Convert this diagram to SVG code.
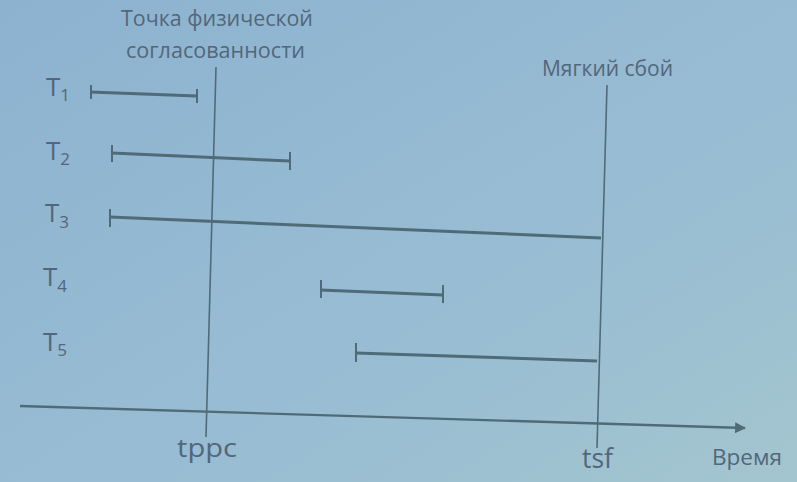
<svg xmlns="http://www.w3.org/2000/svg" width="797" height="482" viewBox="0 0 797 482">
<defs>
<linearGradient id="bg" x1="0" y1="0" x2="1" y2="1">
<stop offset="0" stop-color="#8db2d0"/>
<stop offset="0.6" stop-color="#98bdd3"/>
<stop offset="1" stop-color="#a3c5cf"/>
</linearGradient>
<marker id="arr" viewBox="0 0 10 10" refX="9" refY="5" markerWidth="11" markerHeight="11" markerUnits="userSpaceOnUse" orient="auto">
<path d="M0,0 L10,5 L0,10 z" fill="#4f6b78"/>
</marker>
<style>
.ln{stroke:#4f6b78;fill:none;stroke-linecap:butt}
.bar{stroke:#4f6b78;stroke-width:3;fill:none}
.tk{stroke:#4f6b78;stroke-width:2}
.v{stroke:#4f6b78;stroke-width:1.6}
.t{font-family:"Open Sans","Liberation Sans",sans-serif;fill:#52677a}
.lab{font-size:26px}
.sub{font-size:17px}
.cap{font-size:21px}
</style>
</defs>
<rect width="797" height="482" fill="url(#bg)"/>
<g id="connectors">
<line id="axis" class="ln" x1="20" y1="406" x2="745" y2="428" stroke-width="2.4" marker-end="url(#arr)"/>
<line id="tppc-line" class="v" x1="216" y1="67" x2="206" y2="437"/>
<line id="tsf-line" class="v" x1="607" y1="85" x2="597" y2="448"/>
</g>
<g id="T1">
<text class="t lab" x="46" y="96">T<tspan class="sub" dy="5">1</tspan></text>
<line class="bar" x1="90" y1="92" x2="197" y2="96"/>
<line class="tk" x1="91" y1="85" x2="91" y2="99"/>
<line class="tk" x1="197" y1="89" x2="197" y2="103"/>
</g>
<g id="T2">
<text class="t lab" x="46" y="160">T<tspan class="sub" dy="5">2</tspan></text>
<line class="bar" x1="112" y1="153" x2="290" y2="161"/>
<line class="tk" x1="112" y1="145" x2="112" y2="162"/>
<line class="tk" x1="290" y1="152" x2="290" y2="170"/>
</g>
<g id="T3">
<text class="t lab" x="45" y="222">T<tspan class="sub" dy="6">3</tspan></text>
<line class="bar" x1="110" y1="217" x2="601" y2="238"/>
<line class="tk" x1="110" y1="209" x2="110" y2="227"/>
</g>
<g id="T4">
<text class="t lab" x="43" y="286">T<tspan class="sub" dy="6">4</tspan></text>
<line class="bar" x1="320" y1="290" x2="443" y2="295"/>
<line class="tk" x1="321" y1="280" x2="321" y2="298"/>
<line class="tk" x1="443" y1="285" x2="443" y2="303"/>
</g>
<g id="T5">
<text class="t lab" x="43" y="351">T<tspan class="sub" dy="5">5</tspan></text>
<line class="bar" x1="356" y1="353" x2="597" y2="361"/>
<line class="tk" x1="356" y1="343" x2="356" y2="362"/>
</g>
<g id="label-pc">
<text class="t cap" x="121" y="26" textLength="192" lengthAdjust="spacingAndGlyphs">Точка физической</text>
<text class="t cap" x="126" y="58" textLength="179" lengthAdjust="spacingAndGlyphs">согласованности</text>
</g>
<g id="label-sf">
<text class="t cap" x="542" y="76" textLength="131" lengthAdjust="spacingAndGlyphs">Мягкий сбой</text>
</g>
<g id="label-tppc">
<text class="t" x="177" y="457" font-size="26" textLength="60" lengthAdjust="spacingAndGlyphs">tppc</text>
</g>
<g id="label-tsf">
<text class="t" x="582" y="468" font-size="27" textLength="31" lengthAdjust="spacingAndGlyphs">tsf</text>
</g>
<g id="label-time">
<text class="t" x="712" y="465" font-size="22" textLength="70" lengthAdjust="spacingAndGlyphs">Время</text>
</g>
</svg>
